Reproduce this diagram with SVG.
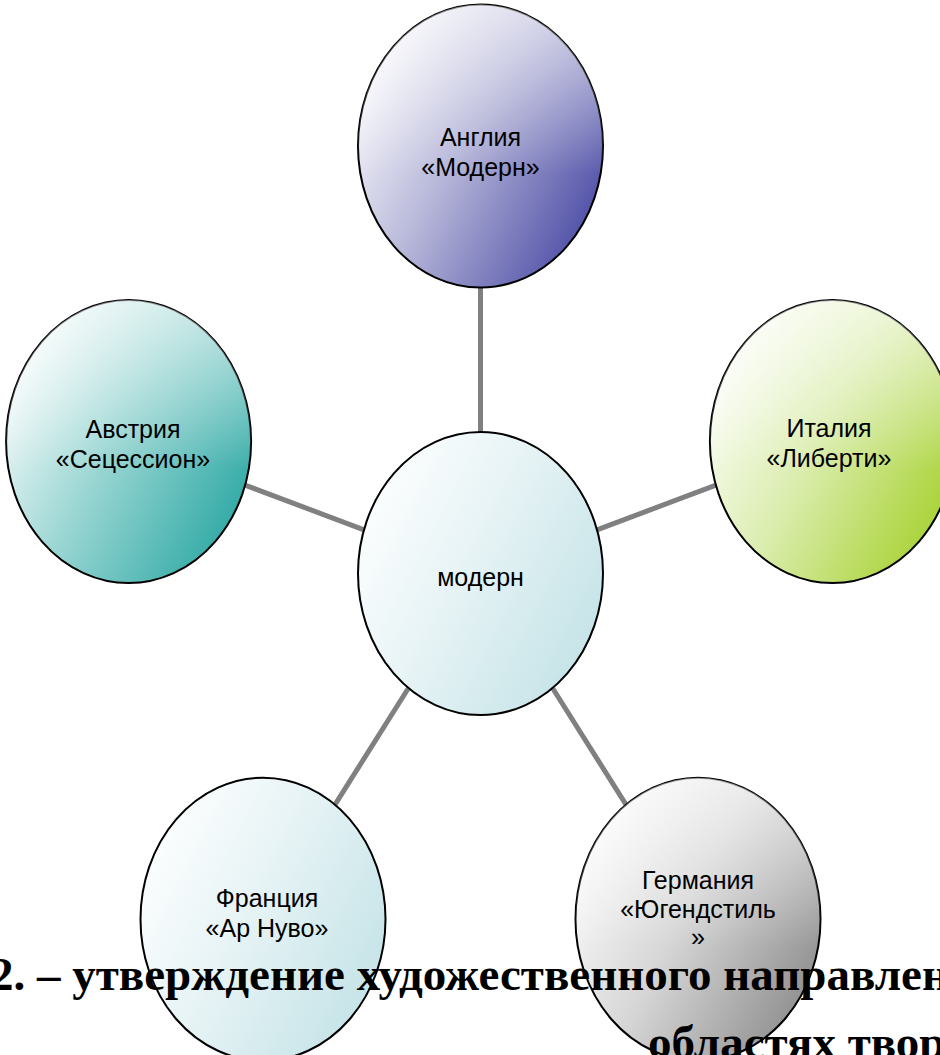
<svg xmlns="http://www.w3.org/2000/svg" width="940" height="1055" viewBox="0 0 940 1055">
<defs>
<linearGradient id="gBlue" x1="0" y1="0.2" x2="1" y2="0.8"><stop offset="0" stop-color="#ffffff"/><stop offset="0.45" stop-color="#b4b4d8"/><stop offset="1" stop-color="#4848a4"/></linearGradient>
<linearGradient id="gTeal" x1="0" y1="0.2" x2="1" y2="0.8"><stop offset="0" stop-color="#ffffff"/><stop offset="0.45" stop-color="#9ad6d3"/><stop offset="1" stop-color="#28a6a2"/></linearGradient>
<linearGradient id="gGreen" x1="0" y1="0.2" x2="1" y2="0.8"><stop offset="0" stop-color="#ffffff"/><stop offset="0.45" stop-color="#dbedaf"/><stop offset="1" stop-color="#a4d02a"/></linearGradient>
<linearGradient id="gLight" x1="0" y1="0.2" x2="1" y2="0.8"><stop offset="0" stop-color="#ffffff"/><stop offset="0.45" stop-color="#e6f3f5"/><stop offset="1" stop-color="#c2e2e6"/></linearGradient>
<linearGradient id="gGray" x1="0" y1="0.2" x2="1" y2="0.8"><stop offset="0" stop-color="#ffffff"/><stop offset="0.45" stop-color="#d6d6d6"/><stop offset="1" stop-color="#8a8a8a"/></linearGradient>
<linearGradient id="gSheen" x1="0" y1="0" x2="0" y2="1"><stop offset="0" stop-color="#ffffff" stop-opacity="0.55"/><stop offset="0.6" stop-color="#ffffff" stop-opacity="0"/></linearGradient>
</defs>
<style>
.node ellipse.b{stroke:#000;stroke-width:2}
.node ellipse.s{fill:url(#gSheen);stroke:none}
.lbl{font-family:"Liberation Sans",Arial,sans-serif;font-size:25px;fill:#000;text-anchor:middle}
.conn line{stroke:#808080;stroke-width:5}
.cap{font-family:"Liberation Serif","Times New Roman",serif;font-size:47px;font-weight:bold;fill:#000}
</style>
<g id="connectors" class="conn">
<line x1="480.5" y1="432" x2="480.5" y2="287.5"/>
<line x1="597" y1="529.8" x2="715.9" y2="485.2"/>
<line x1="552.5" y1="688" x2="626" y2="804.7"/>
<line x1="408.5" y1="688" x2="335" y2="804.7"/>
<line x1="364" y1="529.8" x2="245.1" y2="485.2"/>
</g>
<g id="node-center" class="node">
<ellipse class="b" cx="480.5" cy="573.5" rx="122.5" ry="141.5" fill="url(#gLight)"/>
<text class="lbl" x="480.5" y="586">модерн</text>
</g>
<g id="node-england" class="node">
<ellipse class="b" cx="480.5" cy="146" rx="122.5" ry="141.5" fill="url(#gBlue)"/>
<ellipse class="s" cx="480.5" cy="146" rx="122.5" ry="141.5"/>
<text class="lbl" x="480.5" y="146">Англия</text>
<text class="lbl" x="480.5" y="176">«Модерн»</text>
</g>
<g id="node-austria" class="node">
<ellipse class="b" cx="128.6" cy="441.5" rx="122.5" ry="141.5" fill="url(#gTeal)"/>
<ellipse class="s" cx="128.6" cy="441.5" rx="122.5" ry="141.5"/>
<text class="lbl" x="133" y="438">Австрия</text>
<text class="lbl" x="133" y="468">«Сецессион»</text>
</g>
<g id="node-italy" class="node">
<ellipse class="b" cx="832.4" cy="441.5" rx="122.5" ry="141.5" fill="url(#gGreen)"/>
<ellipse class="s" cx="832.4" cy="441.5" rx="122.5" ry="141.5"/>
<text class="lbl" x="829" y="437">Италия</text>
<text class="lbl" x="829" y="467">«Либерти»</text>
</g>
<g id="node-france" class="node">
<ellipse class="b" cx="263" cy="919.2" rx="122.5" ry="141.5" fill="url(#gLight)"/>
<text class="lbl" x="267" y="907">Франция</text>
<text class="lbl" x="267" y="937">«Ар Нуво»</text>
</g>
<g id="node-germany" class="node">
<ellipse class="b" cx="698" cy="919.2" rx="122.5" ry="141.5" fill="url(#gGray)"/>
<ellipse class="s" cx="698" cy="919.2" rx="122.5" ry="141.5"/>
<text class="lbl" x="698" y="889">Германия</text>
<text class="lbl" x="698" y="918">«Югендстиль</text>
<text class="lbl" x="698" y="946">»</text>
</g>
<g id="caption">
<text class="cap" x="-10" y="990">2. – утверждение художественного направлен</text>
<text class="cap" x="648" y="1058">областях твор</text>
</g>
</svg>
